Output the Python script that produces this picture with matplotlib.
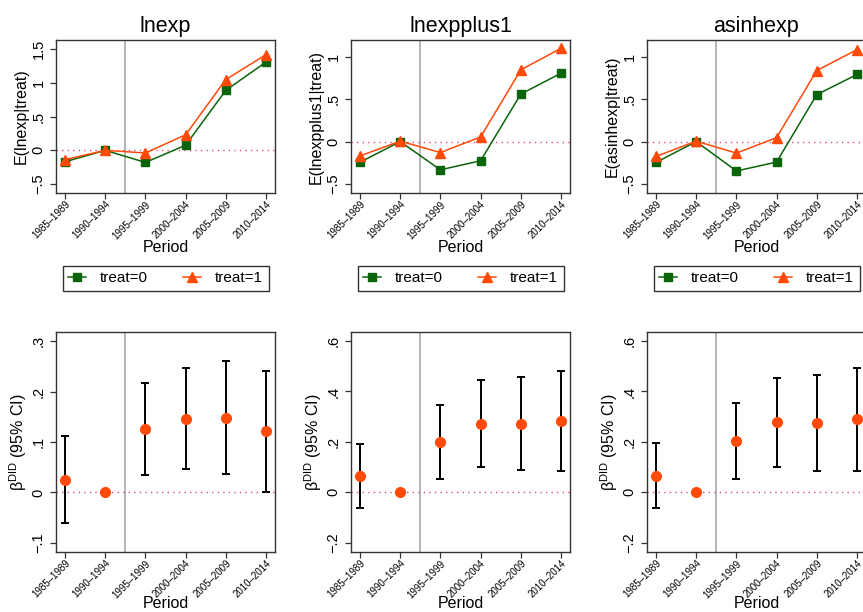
import numpy as np
import matplotlib
matplotlib.use("Agg")
import matplotlib.pyplot as plt

plt.rcParams['font.family'] = ['Liberation Sans', 'DejaVu Sans']
plt.rcParams['mathtext.fontset'] = 'custom'
plt.rcParams['mathtext.rm'] = 'Liberation Sans'

# data
periods = ["1985–1989", "1990–1994", "1995–1999", "2000–2004", "2005–2009", "2010–2014"]
names = ["lnexp", "lnexpplus1", "asinhexp"]

lnexp_t0 = [-0.17, 0.0, -0.18, 0.075, 0.89, 1.31]
lnexp_t1 = [-0.14, 0.0, -0.04, 0.23, 1.05, 1.42]
plus1_t0 = [-0.245, 0.0, -0.335, -0.228, 0.563, 0.811]
plus1_t1 = [-0.17, 0.005, -0.13, 0.055, 0.85, 1.106]
asinh_t0 = [-0.247, 0.0, -0.349, -0.243, 0.557, 0.796]
asinh_t1 = [-0.176, 0.005, -0.137, 0.047, 0.843, 1.09]

lnexp_b = [0.0245, 0.0, 0.126, 0.146, 0.148, 0.121]
lnexp_lo = [-0.061, np.nan, 0.034, 0.047, 0.036, 0.001]
lnexp_hi = [0.111, np.nan, 0.217, 0.246, 0.260, 0.240]
plus1_b = [0.066, 0.0, 0.200, 0.272, 0.272, 0.283]
plus1_lo = [-0.061, np.nan, 0.054, 0.102, 0.087, 0.086]
plus1_hi = [0.192, np.nan, 0.346, 0.444, 0.457, 0.481]
asinh_b = [0.066, 0.0, 0.203, 0.277, 0.275, 0.289]
asinh_lo = [-0.064, np.nan, 0.052, 0.101, 0.085, 0.085]
asinh_hi = [0.197, np.nan, 0.354, 0.454, 0.465, 0.493]

top_t0 = [lnexp_t0, plus1_t0, asinh_t0]
top_t1 = [lnexp_t1, plus1_t1, asinh_t1]
bot_b = [lnexp_b, plus1_b, asinh_b]
bot_lo = [lnexp_lo, plus1_lo, asinh_lo]
bot_hi = [lnexp_hi, plus1_hi, asinh_hi]

top_ticks = [[-0.5, 0, 0.5, 1, 1.5], [-0.5, 0, 0.5, 1], [-0.5, 0, 0.5, 1]]
top_labels = [["−.5", "0", ".5", "1", "1.5"], ["−.5", "0", ".5", "1"], ["−.5", "0", ".5", "1"]]
top_ylim = [(-0.634, 1.638), (-0.61, 1.205), (-0.61, 1.205)]
bot_ticks = [[-0.1, 0, 0.1, 0.2, 0.3], [-0.2, 0, 0.2, 0.4, 0.6], [-0.2, 0, 0.2, 0.4, 0.6]]
bot_labels = [["−.1", "0", ".1", ".2", ".3"], ["−.2", "0", ".2", ".4", ".6"], ["−.2", "0", ".2", ".4", ".6"]]
bot_ylim = [(-0.118, 0.318), (-0.237, 0.636), (-0.237, 0.636)]

green = "#0a640a"
orange = "#ff4a0a"
frame = "#333333"

W, H = 863, 612
fig = plt.figure(figsize=(W / 100, H / 100), dpi=100)
x = np.arange(1, 7)
lefts = [56, 351, 647]
aw = 219


def style(ax, ticks, labels, ylim, xpad):
    ax.set_xlim(0.775, 6.225)
    ax.set_ylim(*ylim)
    ax.set_xticks(x)
    ax.set_xticklabels(periods, rotation=45, ha="right", rotation_mode="anchor", fontsize=7)
    ax.set_yticks(ticks)
    ax.set_yticklabels(labels, rotation=90, va="center", fontsize=10.5)
    for s in ax.spines.values():
        s.set_color(frame)
        s.set_linewidth(1.0)
    ax.tick_params(axis="both", direction="out", color=frame, length=4, width=0.9)
    ax.tick_params(axis="x", pad=0.5)
    ax.axvline(2.5, color="#a8a8a8", lw=1.2, zorder=1)
    ax.axhline(0, color="#e0507a", lw=1.0, ls=(0, (1, 3)), zorder=1)
    ax.set_xlabel("Period", fontsize=11.5, labelpad=xpad)


for i in range(3):
    ax = fig.add_axes([lefts[i] / W, (H - 193) / H, aw / W, 153 / H])
    style(ax, top_ticks[i], top_labels[i], top_ylim[i], -0.5)
    ax.plot(x, top_t0[i], color=green, lw=1.1, marker="s", ms=6, label="treat=0", zorder=3)
    ax.plot(x, top_t1[i], color=orange, lw=1.1, marker="^", ms=7, label="treat=1", zorder=3)
    ax.set_title(names[i], fontsize=15.5, pad=6)
    ax.set_ylabel("E(" + names[i] + "|treat)", fontsize=11.5, labelpad=2)
    leg = ax.legend(loc="upper center", bbox_to_anchor=(0.5, -0.477),
                    ncol=2, fancybox=False, frameon=True, fontsize=11, handlelength=1.2,
                    handletextpad=0.9, borderaxespad=0, borderpad=0.35, columnspacing=2.3)
    leg.get_frame().set_edgecolor("black")
    leg.get_frame().set_linewidth(1.0)

    ax2 = fig.add_axes([lefts[i] / W, (H - 552) / H, aw / W, 220 / H])
    style(ax2, bot_ticks[i], bot_labels[i], bot_ylim[i], -2.5)
    b = np.array(bot_b[i])
    lo = np.array(bot_lo[i])
    hi = np.array(bot_hi[i])
    ok = ~np.isnan(lo)
    ax2.errorbar(x[ok], b[ok], yerr=[b[ok] - lo[ok], hi[ok] - b[ok]], fmt="none",
                 ecolor="black", elinewidth=1.4, capsize=3, capthick=1.4, zorder=2)
    ax2.plot(x, b, "o", color=orange, ms=7, zorder=3)
    ax2.set_ylabel("β$^{\\mathrm{DID}}$ (95% CI)", fontsize=11.5, labelpad=2)

fig.savefig("out.png", dpi=100)
